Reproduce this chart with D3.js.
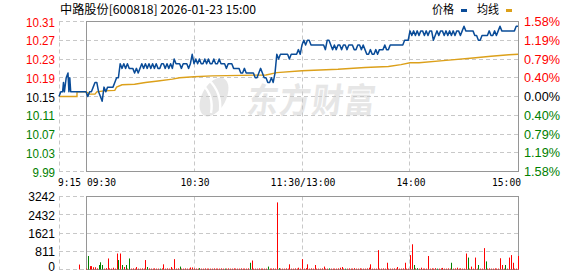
<!DOCTYPE html>
<html>
<head>
<meta charset="utf-8">
<script src="https://cdn.jsdelivr.net/npm/d3@7.9.0/dist/d3.min.js"></script>
<style>
  body { margin: 0; background: #fff; }
  svg { display: block; }
</style>
</head>
<body>
<div id="chart"></div>
<script>
// ---- data ----
const title = '中路股份[600818] 2026-01-23 15:00';
const legendNames = ['价格', '均线'];
const prevClose = 10.15;

const priceTicks = [10.31, 10.27, 10.23, 10.19, 10.15, 10.11, 10.07, 10.03, 9.99];
const pctLabels = ['1.58%', '1.19%', '0.79%', '0.40%', '0.00%', '0.40%', '0.79%', '1.19%', '1.58%'];
const volTicks = [3242, 2432, 1621, 811, 0];
const timeTicks = [-15, 0, 60, 120, 180, 240];   // minutes from 09:30
const timeLabels = ['9:15', '09:30', '10:30', '11:30/13:00', '14:00', '15:00'];

// call auction 9:15 - 9:30 (minutes before 09:30)
const preTimes  = [-15, -14, -13, -12.5, -12, -11, -10, -9.5, -9, -8.5, 0];
const prePrices = [10.15, 10.16, 10.16, 10.18, 10.16, 10.19, 10.20, 10.16, 10.19, 10.16, 10.16];
const preVolTime = [-4];
const preVol = [220];

// one price per trading minute, 09:30 .. 15:00 (241 points)
const prices = [
  10.16,10.15,10.16,10.16,10.17,10.18,10.18,10.16,10.15,10.14,
  10.17,10.16,10.17,10.17,10.17,10.17,10.18,10.19,10.19,10.22,
  10.21,10.22,10.21,10.22,10.21,10.21,10.21,10.20,10.21,10.20,
  10.21,10.22,10.21,10.22,10.21,10.22,10.21,10.22,10.21,10.22,
  10.21,10.21,10.22,10.22,10.21,10.22,10.21,10.22,10.21,10.23,
  10.22,10.22,10.22,10.21,10.22,10.22,10.22,10.21,10.22,10.24,
  10.22,10.23,10.22,10.23,10.22,10.22,10.23,10.22,10.23,10.22,
  10.22,10.23,10.22,10.22,10.23,10.22,10.22,10.22,10.21,10.22,
  10.22,10.22,10.21,10.21,10.21,10.21,10.20,10.20,10.21,10.20,
  10.20,10.20,10.20,10.20,10.19,10.19,10.20,10.21,10.20,10.19,
  10.19,10.18,10.18,10.19,10.18,10.20,10.24,10.23,10.24,10.24,
  10.24,10.24,10.24,10.23,10.24,10.24,10.24,10.24,10.25,10.24,
  10.26,10.27,10.26,10.27,10.27,10.26,10.26,10.26,10.26,10.26,
  10.26,10.26,10.26,10.25,10.27,10.27,10.26,10.25,10.26,10.25,
  10.26,10.26,10.25,10.26,10.26,10.25,10.26,10.26,10.26,10.25,
  10.25,10.26,10.26,10.25,10.26,10.25,10.24,10.24,10.25,10.24,
  10.24,10.25,10.24,10.25,10.25,10.25,10.26,10.25,10.25,10.26,
  10.26,10.26,10.26,10.26,10.26,10.26,10.26,10.27,10.27,10.27,
  10.29,10.28,10.29,10.28,10.29,10.28,10.29,10.29,10.28,10.29,
  10.28,10.29,10.29,10.27,10.28,10.29,10.28,10.29,10.29,10.28,
  10.29,10.28,10.29,10.28,10.29,10.28,10.29,10.29,10.28,10.29,
  10.30,10.29,10.29,10.29,10.29,10.29,10.28,10.28,10.27,10.27,
  10.28,10.28,10.28,10.28,10.29,10.28,10.28,10.29,10.28,10.29,
  10.30,10.29,10.29,10.29,10.29,10.29,10.29,10.29,10.29,10.30,
  10.30
];

// average price line, read at the minutes where it changes
const avgPreTimes = [-15, -5, -5, 0];
const avgPrePrices = [10.15, 10.15, 10.16, 10.16];
const avgTimes  = [0, 2, 5, 6, 10, 16, 17, 20, 27, 33, 40, 48, 52, 60, 70, 100, 106, 120, 140, 155, 168, 175, 180, 185, 200, 215, 225, 235, 240];
const avgPrices = [10.160, 10.155, 10.155, 10.160, 10.162, 10.163, 10.170, 10.175, 10.176, 10.180, 10.183, 10.187, 10.190,
                   10.192, 10.194, 10.196, 10.201, 10.205, 10.208, 10.212, 10.214, 10.218, 10.222, 10.222, 10.227,
                   10.232, 10.236, 10.239, 10.240];

// volume per trading minute (lots)
const volumes = [
  40,600,150,150,100,100,50,200,320,200,
  40,60,490,50,40,80,40,710,420,710,
  200,110,200,40,490,40,50,40,110,40,
  40,50,40,420,110,50,40,40,50,40,
  40,40,50,230,40,50,40,110,40,460,
  40,50,130,40,40,50,40,40,90,90,
  50,40,40,60,40,40,50,40,40,40,
  40,50,40,40,40,50,40,40,40,50,
  40,40,50,40,40,40,50,40,40,40,
  50,300,400,40,40,40,50,40,40,40,
  40,130,40,40,50,40,2980,60,40,40,
  40,50,40,230,40,40,50,40,80,40,
  460,40,60,230,40,50,40,200,40,40,
  40,50,130,40,40,50,40,40,40,40,
  50,80,110,40,40,40,50,40,40,60,
  40,40,50,40,40,40,50,80,230,40,
  40,40,860,40,40,50,40,300,40,40,
  40,50,40,110,40,40,50,300,40,40,
  640,1120,200,50,60,40,80,40,40,40,
  600,40,50,40,60,40,40,50,70,40,
  40,50,40,300,40,50,80,40,50,40,
  40,710,530,40,130,40,530,40,200,40,
  40,950,360,40,50,40,40,50,40,40,
  500,200,40,200,40,530,640,300,40,40,
  600
];
// minutes whose volume bar is green (down)
const greenMinutes = [1, 7, 8, 9, 18, 20, 22, 24, 34, 41, 52, 63, 77, 91, 101, 107, 135, 144, 182, 184, 195, 203, 212, 218, 222, 233];

// ---- drawing ----
const width = 578, height = 276;
const RED = '#ff0000', GREEN = '#008000', BLUE = '#0a4c98', GOLD = '#dca01a';
const GRID = '#c8c8c8', BOX = '#969696';
const narrow = '"Liberation Sans Narrow", "Liberation Sans", Arial, sans-serif';
const cjk = '"Noto Sans CJK SC", sans-serif';
const mono = '"DejaVu Sans Mono", monospace';

const svg = d3.select('#chart').append('svg')
  .attr('width', width).attr('height', height)
  .attr('viewBox', `0 0 ${width} ${height}`);

const x = d3.scaleLinear().domain([-15, 240]).range([59, 518]);
const y = d3.scaleLinear().domain([9.99, 10.31]).range([171.5, 21.5]);
const yv = d3.scaleLinear().domain([0, 3242]).range([269.5, 196.5]);
const crisp = v => Math.round(v - 0.5) + 0.5;

// watermark
const wm = svg.append('g').attr('fill', '#e6e6e6');
wm.append('ellipse').attr('cx', 214).attr('cy', 97).attr('rx', 12).attr('ry', 21)
  .attr('transform', 'rotate(28 214 97)');
wm.append('path').attr('d', 'M203 85 Q214 96 211 113 M209 80 Q222 93 220 111')
  .attr('fill', 'none').attr('stroke', '#fff').attr('stroke-width', 2.4);
wm.append('text').attr('x', 0).attr('y', 0)
  .attr('font-family', cjk).attr('font-weight', 'bold').attr('font-size', 31)
  .attr('textLength', 128).attr('lengthAdjust', 'spacing')
  .attr('transform', 'translate(246,113) scale(1,1.12) skewX(-8)')
  .text('东方财富');

// gridlines helper
function hGrid(scale, ticks) {
  svg.append('g').selectAll('line').data(ticks).join('line')
    .attr('x1', x(-15)).attr('x2', x(240))
    .attr('y1', d => crisp(scale(d))).attr('y2', d => crisp(scale(d)))
    .attr('stroke', GRID).attr('stroke-dasharray', '4,3');
}
function vGrid(scale) {
  const [y0, y1] = scale.range();
  svg.append('g').selectAll('line').data([-15, 60, 120, 180]).join('line')
    .attr('x1', d => crisp(x(d))).attr('x2', d => crisp(x(d)))
    .attr('y1', y1).attr('y2', y0)
    .attr('stroke', GRID).attr('stroke-dasharray', '4,3');
}
hGrid(y, priceTicks);
vGrid(y);
hGrid(yv, volTicks);
vGrid(yv);

// solid frames for the trading session
[[y, 10.31, 9.99], [yv, 3242, 0]].forEach(([s, top, bot]) => {
  svg.append('rect')
    .attr('x', crisp(x(0))).attr('y', crisp(s(top)))
    .attr('width', Math.round(x(240) - x(0))).attr('height', Math.round(s(bot) - s(top)))
    .attr('fill', 'none').attr('stroke', BOX);
});

// price axis labels (left)
const colorOf = v => v > prevClose + 1e-9 ? RED : (v < prevClose - 1e-9 ? GREEN : '#000');
const numLen = s => s.replace(/[^0-9]/g, '').length * 6.5 + (s.includes('.') ? 3 : 0);

const leftAxis = svg.append('g')
  .attr('transform', `translate(${x(-15) - 4},0)`)
  .call(d3.axisLeft(y).tickValues(priceTicks).tickSize(0).tickPadding(0).tickFormat(d3.format('.2f')));
leftAxis.select('.domain').remove();
leftAxis.selectAll('text')
  .attr('font-family', narrow).attr('font-size', 13)
  .attr('fill', d => colorOf(d))
  .attr('dy', '0.36em')
  .attr('textLength', function () { return numLen(this.textContent); })
  .attr('lengthAdjust', 'spacingAndGlyphs');

// percent labels (right)
svg.append('g').selectAll('text').data(priceTicks).join('text')
  .attr('x', 524).attr('y', d => y(d)).attr('dy', '0.36em')
  .attr('font-family', narrow).attr('font-size', 13)
  .attr('fill', d => colorOf(d))
  .attr('textLength', (d, i) => numLen(pctLabels[i]) + 13.5)
  .attr('lengthAdjust', 'spacingAndGlyphs')
  .text((d, i) => pctLabels[i]);

// volume axis labels
const volAxis = svg.append('g')
  .attr('transform', `translate(${x(-15) - 4},0)`)
  .call(d3.axisLeft(yv).tickValues(volTicks).tickSize(0).tickPadding(0).tickFormat(d3.format('d')));
volAxis.select('.domain').remove();
volAxis.selectAll('text')
  .attr('font-family', narrow).attr('font-size', 13).attr('fill', '#000')
  .attr('dy', d => d === 0 ? '0.1em' : '0.34em')
  .attr('textLength', function () { return this.textContent.length * 6.7; })
  .attr('lengthAdjust', 'spacingAndGlyphs');

// time labels
svg.append('g').selectAll('text').data(timeTicks).join('text')
  .attr('x', (d, i) => i === 0 ? x(d) - 1 : i === 1 ? x(d) + 1 : i === timeTicks.length - 1 ? x(d) + 3 : x(d) + 1)
  .attr('y', 185.5)
  .attr('text-anchor', (d, i) => i < 2 ? 'start' : i === timeTicks.length - 1 ? 'end' : 'middle')
  .attr('font-family', mono).attr('font-size', 11).attr('fill', '#000')
  .attr('textLength', (d, i) => timeLabels[i].length * 6 - 1)
  .attr('lengthAdjust', 'spacingAndGlyphs')
  .text((d, i) => timeLabels[i]);

// volume bars
const greens = new Set(greenMinutes);
const bars = svg.append('g');
bars.selectAll('rect.pre').data(preVolTime).join('rect')
  .attr('x', d => Math.round(x(d))).attr('width', 1)
  .attr('y', (d, i) => yv(preVol[i])).attr('height', (d, i) => yv(0) - yv(preVol[i]))
  .attr('fill', RED);
bars.selectAll('rect.v').data(volumes).join('rect')
  .attr('x', (d, i) => Math.round(x(i))).attr('width', 1)
  .attr('y', d => yv(d)).attr('height', d => yv(0) - yv(d))
  .attr('fill', (d, i) => greens.has(i) ? GREEN : RED);

// lines
const line = d3.line().x(d => x(d[0])).y(d => y(d[1]));
const avgPts = avgPreTimes.map((t, i) => [t, avgPrePrices[i]])
  .concat(avgTimes.map((t, i) => [t, avgPrices[i]]));
svg.append('path').datum(avgPts).attr('d', line)
  .attr('fill', 'none').attr('stroke', GOLD).attr('stroke-width', 1.4);

const pricePts = preTimes.map((t, i) => [t, prePrices[i]])
  .concat(prices.map((p, i) => [i, p]));
svg.append('path').datum(pricePts).attr('d', line)
  .attr('fill', 'none').attr('stroke', BLUE).attr('stroke-width', 1.5)
  .attr('stroke-linejoin', 'round');

// title
svg.append('text').attr('x', 60).attr('y', 14)
  .attr('font-family', cjk).attr('font-size', 12).attr('fill', '#000')
  .attr('textLength', 196).attr('lengthAdjust', 'spacingAndGlyphs')
  .text(title);

// legend
const legend = svg.append('g').attr('font-family', cjk).attr('font-size', 12);
[[432, BLUE], [477, GOLD]].forEach(([lx, c], i) => {
  legend.append('text').attr('x', lx).attr('y', 14).attr('fill', '#000')
    .attr('textLength', 22).attr('lengthAdjust', 'spacingAndGlyphs').text(legendNames[i]);
  legend.append('rect').attr('x', lx + 29).attr('y', 9).attr('width', 6).attr('height', 3).attr('fill', c);
});
</script>
</body>
</html>
